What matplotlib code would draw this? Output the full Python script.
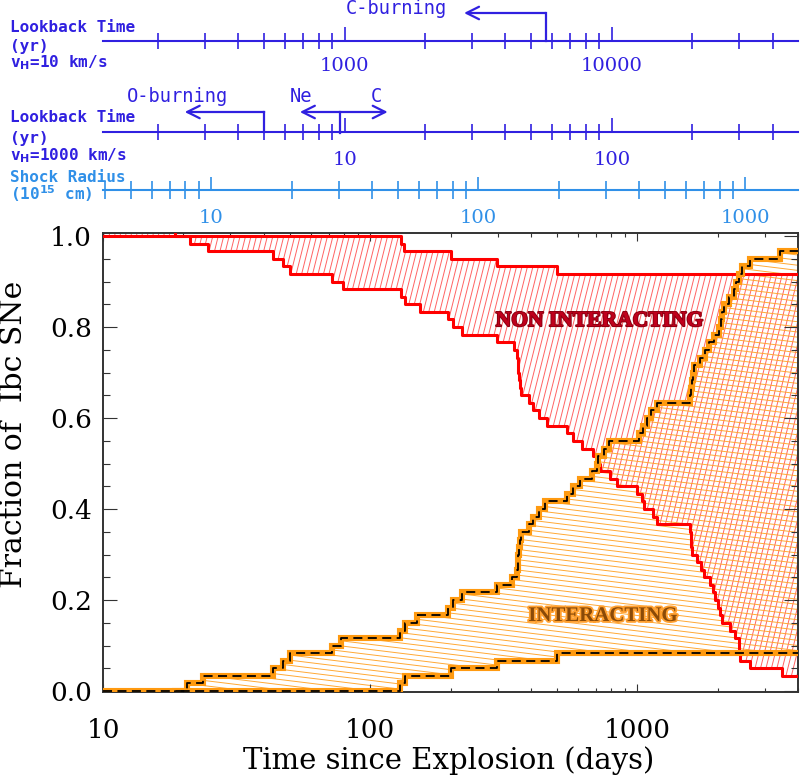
import numpy as np
import matplotlib
matplotlib.use("Agg")
import matplotlib.pyplot as plt
from matplotlib.collections import LineCollection
import matplotlib.transforms as mtrans
import matplotlib.patheffects as pe

plt.rcParams['font.family'] = ['DejaVu Serif']
plt.rcParams['mathtext.default'] = 'regular'

# ---------------- data (step functions: time [days] -> fraction) ----------------
int_hi_t = [10, 20.6, 23.7, 43.3, 47, 50, 72, 78, 129, 135, 150, 196, 205, 220, 298, 340,
            355, 357, 359, 361, 364, 367, 392, 409, 430, 452, 545, 577, 612, 677, 706,
            716, 748, 781, 1012, 1050, 1088, 1130, 1185, 1579, 1590, 1600, 1615, 1625,
            1722, 1798, 1860, 1931, 2016, 2060, 2080, 2105, 2198, 2295, 2350, 2397, 2468,
            2651, 3433]
int_hi_f = [0, .017, .033, .050, .067, .083, .100, .117, .133, .150, .167, .183, .200, .217,
            .233, .250, .267, .283, .300, .317, .333, .350, .367, .383, .400, .417, .433,
            .450, .467, .483, .500, .517, .533, .550, .567, .583, .600, .617, .633, .650,
            .667, .683, .700, .717, .733, .750, .767, .783, .800, .817, .833, .850, .867,
            .883, .900, .917, .933, .950, .967]

int_lo_t = [10, 18.6, 129, 135, 200, 298, 500]
int_lo_f = [-0.02, 0, .017, .033, .050, .067, .083]

non_hi_t = [10, 18.6, 130, 134, 200, 298, 500]
non_hi_f = [1.02, 1.0, .983, .967, .950, .933, .917]

non_lo_t = [10, 21.2, 24.7, 43.3, 47, 50, 72, 79, 130, 135, 154, 196, 205, 220, 298, 345,
            355, 357, 359, 361, 364, 367, 392, 409, 430, 458, 545, 577, 621, 686, 706,
            727, 792, 840, 997, 1040, 1056, 1150, 1185, 1580, 1585, 1590, 1602, 1673,
            1740, 1772, 1877, 1920, 1960, 2000, 2040, 2075, 2229, 2328, 2397, 2415, 2432,
            2651, 3483]
non_lo_f = [1.000, .983, .967, .950, .933, .917, .900, .883, .867, .850, .833, .817, .800,
            .783, .767, .750, .733, .717, .700, .683, .667, .650, .633, .617, .600, .583,
            .567, .550, .533, .517, .500, .483, .467, .450, .433, .417, .400, .383, .367,
            .350, .333, .317, .300, .283, .267, .250, .233, .217, .200, .183, .167, .150,
            .133, .117, .100, .083, .067, .050, .033]

t_min, t_max = 10, 4000

main_xticks = [10, 100, 1000]
main_xticklabels = ['10', '100', '1000']
main_yticks = [0.0, 0.2, 0.4, 0.6, 0.8, 1.0]
main_yticklabels = ['0.0', '0.2', '0.4', '0.6', '0.8', '1.0']

# upper scales
v_shock_kms = 45500.0          # shock speed used to convert days -> radius
vH_slow, vH_fast = 10.0, 1000.0
lb1_ticks, lb1_labels = [1000, 10000], ['1000', '10000']
lb2_ticks, lb2_labels = [10, 100], ['10', '100']
sr_ticks, sr_labels = [10, 100, 1000], ['10', '100', '1000']

c_burn_yr = (5660, 2800)        # vH=10 km/s scale: start, arrow tip
o_burn_yr = (5.0, 2.52)         # vH=1000 km/s scale
ne_c_yr = (9.57, 6.8, 14.5)     # divider, Ne tip, C tip

# ---------------- helpers ----------------
def step_eval(t, f, x):
    idx = np.searchsorted(np.asarray(t), x, side='right') - 1
    idx = np.clip(idx, 0, len(f) - 1)
    return np.asarray(f)[idx]

def ext(t, f):
    return list(t) + [t_max], list(f) + [f[-1]]

W_PX, H_PX = 695.0, 459.0

def add_hatch(ax, poly, angle, spacing, color, lw, alpha=1.0):
    a = np.deg2rad(angle)
    d = np.array([np.cos(a), np.sin(a)])
    n = np.array([-np.sin(a), np.cos(a)])
    diag = np.hypot(W_PX, H_PX)
    c = np.array([W_PX / 2, H_PX / 2])
    segs = []
    for k in np.arange(-diag / spacing - 1, diag / spacing + 1):
        p = c + k * spacing * n
        p0, p1 = p - diag * d, p + diag * d
        segs.append([(p0[0] / W_PX, p0[1] / H_PX), (p1[0] / W_PX, p1[1] / H_PX)])
    lc = LineCollection(segs, colors=color, linewidths=lw, alpha=alpha,
                        transform=ax.transAxes, zorder=1.5)
    lc.set_clip_path(poly.get_paths()[0], poly.get_transform())
    ax.add_collection(lc, autolim=False)
    lc.set_clip_box(ax.bbox)

# ---------------- figure ----------------
fig = plt.figure(figsize=(8.0, 7.78), dpi=100)

LB = '#3020e0'
SR = '#3090e8'
RED = '#ff0000'
ORG = '#ff9a10'
AXC = '#333333'

L, Wf = 103 / 800, 695 / 800
ax = fig.add_axes([L, 1 - 692 / 778, Wf, 459 / 778])
ax.set_xscale('log')

# common grids for fills
grid_non = np.union1d(non_hi_t, non_lo_t)
grid_non = np.append(grid_non, t_max)
grid_int = np.union1d(int_hi_t, int_lo_t)
grid_int = np.append(grid_int, t_max)

poly_non = ax.fill_between(grid_non, step_eval(non_lo_t, non_lo_f, grid_non),
                           step_eval(non_hi_t, non_hi_f, grid_non), step='post',
                           facecolor='none', edgecolor='none')
poly_int = ax.fill_between(grid_int, step_eval(int_lo_t, int_lo_f, grid_int),
                           step_eval(int_hi_t, int_hi_f, grid_int), step='post',
                           facecolor='none', edgecolor='none')
add_hatch(ax, poly_non, 76, 5.3, '#ff4848', 0.7, 0.85)
add_hatch(ax, poly_int, -7, 5.1, '#ffa42a', 0.7, 0.95)

for t, f in [(non_hi_t, non_hi_f), (non_lo_t, non_lo_f)]:
    x, y = ext(t, f)
    ax.step(x, y, where='post', color=RED, lw=2.2, zorder=3)
for t, f in [(int_lo_t, int_lo_f), (int_hi_t, int_hi_f)]:
    x, y = ext(t, f)
    ax.step(x, y, where='post', color=ORG, lw=4.4, zorder=4, solid_joinstyle='miter')
    ax.step(x, y, where='post', color='black', lw=1.3, zorder=5,
            linestyle=(0, (5.0, 3.0)))

ax.text(721, 0.813, 'NON INTERACTING', color='#c0001c', fontsize=15.5, fontweight='bold',
        family='Liberation Serif', ha='center', va='center', zorder=6,
        path_effects=[pe.withStroke(linewidth=1.4, foreground='#8a0010')])
ax.text(746, 0.165, 'INTERACTING', color='#8a4a08', fontsize=15, fontweight='bold',
        family='Liberation Serif', ha='center', va='center', zorder=6,
        path_effects=[pe.withStroke(linewidth=2.6, foreground='#ffa030')])

ax.set_xlim(t_min, t_max)
ax.set_ylim(-0.002, 1.0066)
ax.set_xticks(main_xticks, labels=main_xticklabels)
ax.set_yticks(main_yticks, labels=main_yticklabels)
ax.yaxis.set_minor_locator(matplotlib.ticker.MultipleLocator(0.05))
ax.xaxis.set_minor_locator(matplotlib.ticker.LogLocator(base=10, subs=np.arange(2, 10), numticks=20))
ax.xaxis.set_minor_formatter(matplotlib.ticker.NullFormatter())
ax.tick_params(axis='both', which='both', direction='in', top=True, right=True,
               colors=AXC, width=0.8, labelcolor='black', labelsize=19)
ax.tick_params(axis='x', which='major', length=6, pad=19)
ax.tick_params(axis='x', which='minor', length=3)
ax.tick_params(axis='y', which='major', length=10, pad=8)
ax.tick_params(axis='y', which='minor', length=5)
for s in ax.spines.values():
    s.set_color(AXC)
    s.set_linewidth(1.4)

fig.text(449 / 800, 1 - 761 / 778, 'Time since Explosion (days)', fontsize=21,
         ha='center', va='center')
fig.text(14 / 800, 1 - 434 / 778, 'Fraction of  Ibc SNe', fontsize=21.5,
         ha='center', va='center', rotation=90)

# ---------------- upper scales ----------------
def days_to_yr(days, vH):
    return np.asarray(days) * 86400.0 * v_shock_kms / vH / 3.15576e7

def days_to_r15(days):
    return np.asarray(days) * 86400.0 * v_shock_kms * 1e5 / 1e15

def scale_axis(y_line_px, h_px, xlim, color, majors, labels, maj_len, min_len, pad):
    a = fig.add_axes([L, 1 - y_line_px / 778, Wf, h_px / 778])
    a.set_facecolor('none')
    a.set_xscale('log')
    a.set_xlim(*xlim)
    a.set_ylim(0, 1)
    for k in ['top', 'left', 'right']:
        a.spines[k].set_visible(False)
    a.spines['bottom'].set_color(color)
    a.spines['bottom'].set_linewidth(1.5)
    a.set_yticks([])
    a.set_xticks(majors, labels=labels)
    a.xaxis.set_minor_locator(matplotlib.ticker.LogLocator(base=10, subs=np.arange(2, 10), numticks=20))
    a.xaxis.set_minor_formatter(matplotlib.ticker.NullFormatter())
    a.tick_params(axis='x', which='major', direction='in', length=maj_len, width=1.2,
                  color=color, labelcolor=color, labelsize=14, pad=pad)
    a.tick_params(axis='x', which='minor', direction='inout', length=min_len, width=1.2,
                  color=color)
    return a

ax1 = scale_axis(41, 38, days_to_yr([t_min, t_max], vH_slow), LB, lb1_ticks, lb1_labels, 10, 12, 11.5)
ax2 = scale_axis(132, 40, days_to_yr([t_min, t_max], vH_fast), LB, lb2_ticks, lb2_labels, 10, 12, 14)
ax3 = scale_axis(190, 20, days_to_r15([t_min, t_max]), SR, sr_ticks, sr_labels, 9.5, 13, 13.5)

mono = 'DejaVu Sans Mono'
def side_label(y_px, s, color):
    fig.text(10 / 800, 1 - y_px / 778, s, color=color, fontsize=11.5, fontweight='bold',
             family=mono, ha='left', va='center')

side_label(27, 'Lookback Time', LB)
side_label(47, '(yr)', LB)
side_label(63, r'v$_{\mathbf{H}}$=10 km/s', LB)
side_label(118, 'Lookback Time', LB)
side_label(138, '(yr)', LB)
side_label(156, r'v$_{\mathbf{H}}$=1000 km/s', LB)
side_label(177, 'Shock Radius', SR)
side_label(194, r'(10$^{\mathbf{15}}$ cm)', SR)

arrow_kw = dict(arrowstyle='->,head_length=0.9,head_width=0.45', color=LB, lw=1.6,
                shrinkA=0, shrinkB=0, mutation_scale=10)

# C-burning (vH = 10 km/s)
tr1 = mtrans.blended_transform_factory(ax1.transData, ax1.transAxes)
y_arr1 = 28 / 38
ax1.plot([c_burn_yr[0]] * 2, [0, y_arr1], color=LB, lw=1.6, transform=tr1, clip_on=False)
ax1.annotate('', xy=(c_burn_yr[1], y_arr1), xytext=(c_burn_yr[0], y_arr1),
             xycoords=tr1, textcoords=tr1, arrowprops=arrow_kw, annotation_clip=False)
ax1.text(1566, 32 / 38, 'C-burning', transform=tr1, color=LB, fontsize=13.5, family=mono,
         ha='center', va='center')

# O, Ne, C burning (vH = 1000 km/s)
tr2 = mtrans.blended_transform_factory(ax2.transData, ax2.transAxes)
y_arr2 = 20 / 40
ax2.plot([o_burn_yr[0]] * 2, [0, y_arr2], color=LB, lw=1.6, transform=tr2, clip_on=False)
ax2.annotate('', xy=(o_burn_yr[1], y_arr2), xytext=(o_burn_yr[0], y_arr2),
             xycoords=tr2, textcoords=tr2, arrowprops=arrow_kw, annotation_clip=False)
ax2.plot([ne_c_yr[0]] * 2, [-0.03, y_arr2], color=LB, lw=1.6, transform=tr2, clip_on=False)
ax2.annotate('', xy=(ne_c_yr[1], y_arr2), xytext=(ne_c_yr[0], y_arr2),
             xycoords=tr2, textcoords=tr2, arrowprops=arrow_kw, annotation_clip=False)
ax2.annotate('', xy=(ne_c_yr[2], y_arr2), xytext=(ne_c_yr[0], y_arr2),
             xycoords=tr2, textcoords=tr2, arrowprops=arrow_kw, annotation_clip=False)
ax2.text(2.37, 35 / 40, 'O-burning', transform=tr2, color=LB, fontsize=13.5, family=mono,
         ha='center', va='center')
ax2.text(6.84, 35 / 40, 'Ne', transform=tr2, color=LB, fontsize=13.5, family=mono,
         ha='center', va='center')
ax2.text(13.2, 35 / 40, 'C', transform=tr2, color=LB, fontsize=13.5, family=mono,
         ha='center', va='center')

fig.savefig('out.png', dpi=100)
